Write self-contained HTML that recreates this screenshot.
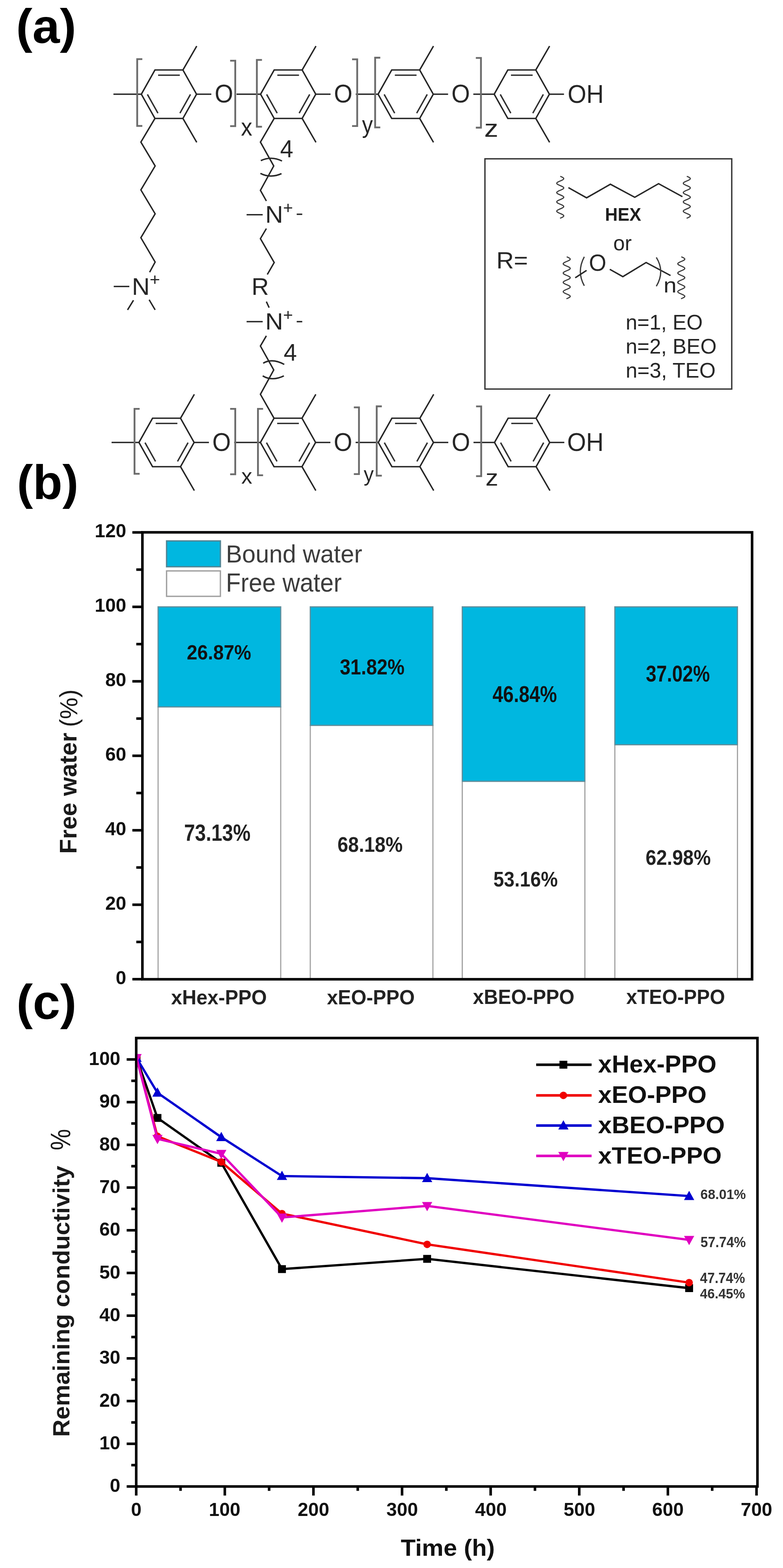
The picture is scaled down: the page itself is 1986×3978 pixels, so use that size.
<!DOCTYPE html>
<html><head><meta charset="utf-8"><title>Figure</title>
<style>html,body{margin:0;padding:0;background:#fff;}svg{display:block;}</style></head>
<body><svg width="1986" height="3978" viewBox="0 0 1986 3978" font-family="Liberation Sans, Arial, sans-serif">
<rect width="1986" height="3978" fill="#fff"/>
<polygon points="358.5,239 393,177.5 464,177.5 498.5,239 464,300.5 393,300.5" fill="none" stroke="#262626" stroke-width="3.6" stroke-linecap="butt" stroke-linejoin="miter"/>
<line x1="401" y1="190.7" x2="456" y2="190.7" stroke="#303030" stroke-width="3.6" stroke-linecap="butt"/>
<line x1="373.9" y1="239.5" x2="400.6" y2="287.1" stroke="#303030" stroke-width="3.6" stroke-linecap="butt"/>
<line x1="483.1" y1="239.5" x2="456.4" y2="287.1" stroke="#303030" stroke-width="3.6" stroke-linecap="butt"/>
<line x1="464" y1="177.5" x2="499" y2="116.9" stroke="#262626" stroke-width="3.6" stroke-linecap="butt"/>
<line x1="464" y1="300.5" x2="499" y2="361.1" stroke="#262626" stroke-width="3.6" stroke-linecap="butt"/>
<polygon points="660.9,239 695.4,177.5 766.4,177.5 800.9,239 766.4,300.5 695.4,300.5" fill="none" stroke="#262626" stroke-width="3.6" stroke-linecap="butt" stroke-linejoin="miter"/>
<line x1="703.4" y1="190.7" x2="758.4" y2="190.7" stroke="#303030" stroke-width="3.6" stroke-linecap="butt"/>
<line x1="676.3" y1="239.5" x2="703" y2="287.1" stroke="#303030" stroke-width="3.6" stroke-linecap="butt"/>
<line x1="785.5" y1="239.5" x2="758.8" y2="287.1" stroke="#303030" stroke-width="3.6" stroke-linecap="butt"/>
<line x1="766.4" y1="177.5" x2="801.4" y2="116.9" stroke="#262626" stroke-width="3.6" stroke-linecap="butt"/>
<line x1="766.4" y1="300.5" x2="801.4" y2="361.1" stroke="#262626" stroke-width="3.6" stroke-linecap="butt"/>
<polygon points="959,239 993.5,177.5 1064.5,177.5 1099,239 1064.5,300.5 993.5,300.5" fill="none" stroke="#262626" stroke-width="3.6" stroke-linecap="butt" stroke-linejoin="miter"/>
<line x1="1001.5" y1="190.7" x2="1056.5" y2="190.7" stroke="#303030" stroke-width="3.6" stroke-linecap="butt"/>
<line x1="974.4" y1="239.5" x2="1001.1" y2="287.1" stroke="#303030" stroke-width="3.6" stroke-linecap="butt"/>
<line x1="1083.6" y1="239.5" x2="1056.9" y2="287.1" stroke="#303030" stroke-width="3.6" stroke-linecap="butt"/>
<line x1="1064.5" y1="177.5" x2="1099.5" y2="116.9" stroke="#262626" stroke-width="3.6" stroke-linecap="butt"/>
<line x1="1064.5" y1="300.5" x2="1099.5" y2="361.1" stroke="#262626" stroke-width="3.6" stroke-linecap="butt"/>
<polygon points="1253.5,239 1288,177.5 1359,177.5 1393.5,239 1359,300.5 1288,300.5" fill="none" stroke="#262626" stroke-width="3.6" stroke-linecap="butt" stroke-linejoin="miter"/>
<line x1="1296" y1="190.7" x2="1351" y2="190.7" stroke="#303030" stroke-width="3.6" stroke-linecap="butt"/>
<line x1="1268.9" y1="239.5" x2="1295.6" y2="287.1" stroke="#303030" stroke-width="3.6" stroke-linecap="butt"/>
<line x1="1378.1" y1="239.5" x2="1351.4" y2="287.1" stroke="#303030" stroke-width="3.6" stroke-linecap="butt"/>
<line x1="1359" y1="177.5" x2="1394" y2="116.9" stroke="#262626" stroke-width="3.6" stroke-linecap="butt"/>
<line x1="1359" y1="300.5" x2="1394" y2="361.1" stroke="#262626" stroke-width="3.6" stroke-linecap="butt"/>
<line x1="287.7" y1="239" x2="358.5" y2="239" stroke="#262626" stroke-width="3.6" stroke-linecap="butt"/>
<line x1="498.5" y1="239" x2="536" y2="239" stroke="#262626" stroke-width="3.6" stroke-linecap="butt"/>
<text transform="translate(544.5,260) scale(1,1.082)" font-size="60.4" fill="#262626">O</text>
<line x1="600" y1="239" x2="660.9" y2="239" stroke="#262626" stroke-width="3.6" stroke-linecap="butt"/>
<line x1="800.9" y1="239" x2="838.4" y2="239" stroke="#262626" stroke-width="3.6" stroke-linecap="butt"/>
<text transform="translate(846.9,260) scale(1,1.082)" font-size="60.4" fill="#262626">O</text>
<line x1="902.4" y1="239" x2="959" y2="239" stroke="#262626" stroke-width="3.6" stroke-linecap="butt"/>
<line x1="1099" y1="239" x2="1136.5" y2="239" stroke="#262626" stroke-width="3.6" stroke-linecap="butt"/>
<text transform="translate(1145,260) scale(1,1.082)" font-size="60.4" fill="#262626">O</text>
<line x1="1200.5" y1="239" x2="1253.5" y2="239" stroke="#262626" stroke-width="3.6" stroke-linecap="butt"/>
<line x1="1393.5" y1="239" x2="1430.5" y2="239" stroke="#262626" stroke-width="3.6" stroke-linecap="butt"/>
<polyline points="361,150 348,150 348,319.5 361,319.5" fill="none" stroke="#6c6c6c" stroke-width="4.6" stroke-linecap="butt" stroke-linejoin="miter"/>
<polyline points="583.7,154 596.7,154 596.7,320 583.7,320" fill="none" stroke="#6c6c6c" stroke-width="4.6" stroke-linecap="butt" stroke-linejoin="miter"/>
<polyline points="664.5,152 651.5,152 651.5,321.5 664.5,321.5" fill="none" stroke="#6c6c6c" stroke-width="4.6" stroke-linecap="butt" stroke-linejoin="miter"/>
<polyline points="893,150.5 906,150.5 906,319.7 893,319.7" fill="none" stroke="#6c6c6c" stroke-width="4.6" stroke-linecap="butt" stroke-linejoin="miter"/>
<polyline points="964.5,146.4 951.5,146.4 951.5,323.2 964.5,323.2" fill="none" stroke="#6c6c6c" stroke-width="4.6" stroke-linecap="butt" stroke-linejoin="miter"/>
<polyline points="1206.9,147 1219.9,147 1219.9,323.9 1206.9,323.9" fill="none" stroke="#6c6c6c" stroke-width="4.6" stroke-linecap="butt" stroke-linejoin="miter"/>
<text transform="translate(611.2,343.7) scale(1,1.096)" font-size="57.3" fill="#262626">x</text>
<text transform="translate(918.3,336.7) scale(1,1.097)" font-size="54.9" fill="#262626">y</text>
<text transform="translate(1228.3,347) scale(1,0.880)" font-size="71.2" fill="#262626">z</text>
<text transform="translate(1439.8,260.7) scale(1,1.070)" font-size="61" fill="#262626">OH</text>
<polygon points="352.4,1122.5 386.9,1061 457.9,1061 492.4,1122.5 457.9,1184 386.9,1184" fill="none" stroke="#262626" stroke-width="3.6" stroke-linecap="butt" stroke-linejoin="miter"/>
<line x1="394.9" y1="1074.2" x2="449.9" y2="1074.2" stroke="#303030" stroke-width="3.6" stroke-linecap="butt"/>
<line x1="367.8" y1="1123" x2="394.5" y2="1170.6" stroke="#303030" stroke-width="3.6" stroke-linecap="butt"/>
<line x1="477" y1="1123" x2="450.3" y2="1170.6" stroke="#303030" stroke-width="3.6" stroke-linecap="butt"/>
<line x1="457.9" y1="1061" x2="492.9" y2="1000.4" stroke="#262626" stroke-width="3.6" stroke-linecap="butt"/>
<line x1="457.9" y1="1184" x2="492.9" y2="1244.6" stroke="#262626" stroke-width="3.6" stroke-linecap="butt"/>
<polygon points="660.5,1122.5 695,1061 766,1061 800.5,1122.5 766,1184 695,1184" fill="none" stroke="#262626" stroke-width="3.6" stroke-linecap="butt" stroke-linejoin="miter"/>
<line x1="703" y1="1074.2" x2="758" y2="1074.2" stroke="#303030" stroke-width="3.6" stroke-linecap="butt"/>
<line x1="675.9" y1="1123" x2="702.6" y2="1170.6" stroke="#303030" stroke-width="3.6" stroke-linecap="butt"/>
<line x1="785.1" y1="1123" x2="758.4" y2="1170.6" stroke="#303030" stroke-width="3.6" stroke-linecap="butt"/>
<line x1="766" y1="1061" x2="801" y2="1000.4" stroke="#262626" stroke-width="3.6" stroke-linecap="butt"/>
<line x1="766" y1="1184" x2="801" y2="1244.6" stroke="#262626" stroke-width="3.6" stroke-linecap="butt"/>
<polygon points="959.5,1122.5 994,1061 1065,1061 1099.5,1122.5 1065,1184 994,1184" fill="none" stroke="#262626" stroke-width="3.6" stroke-linecap="butt" stroke-linejoin="miter"/>
<line x1="1002" y1="1074.2" x2="1057" y2="1074.2" stroke="#303030" stroke-width="3.6" stroke-linecap="butt"/>
<line x1="974.9" y1="1123" x2="1001.6" y2="1170.6" stroke="#303030" stroke-width="3.6" stroke-linecap="butt"/>
<line x1="1084.1" y1="1123" x2="1057.4" y2="1170.6" stroke="#303030" stroke-width="3.6" stroke-linecap="butt"/>
<line x1="1065" y1="1061" x2="1100" y2="1000.4" stroke="#262626" stroke-width="3.6" stroke-linecap="butt"/>
<line x1="1065" y1="1184" x2="1100" y2="1244.6" stroke="#262626" stroke-width="3.6" stroke-linecap="butt"/>
<polygon points="1254.3,1122.5 1288.8,1061 1359.8,1061 1394.3,1122.5 1359.8,1184 1288.8,1184" fill="none" stroke="#262626" stroke-width="3.6" stroke-linecap="butt" stroke-linejoin="miter"/>
<line x1="1296.8" y1="1074.2" x2="1351.8" y2="1074.2" stroke="#303030" stroke-width="3.6" stroke-linecap="butt"/>
<line x1="1269.7" y1="1123" x2="1296.4" y2="1170.6" stroke="#303030" stroke-width="3.6" stroke-linecap="butt"/>
<line x1="1378.9" y1="1123" x2="1352.2" y2="1170.6" stroke="#303030" stroke-width="3.6" stroke-linecap="butt"/>
<line x1="1359.8" y1="1061" x2="1394.8" y2="1000.4" stroke="#262626" stroke-width="3.6" stroke-linecap="butt"/>
<line x1="1359.8" y1="1184" x2="1394.8" y2="1244.6" stroke="#262626" stroke-width="3.6" stroke-linecap="butt"/>
<line x1="283" y1="1122.5" x2="352.4" y2="1122.5" stroke="#262626" stroke-width="3.6" stroke-linecap="butt"/>
<line x1="492.4" y1="1122.5" x2="529.9" y2="1122.5" stroke="#262626" stroke-width="3.6" stroke-linecap="butt"/>
<text transform="translate(538.4,1143.5) scale(1,1.082)" font-size="60.4" fill="#262626">O</text>
<line x1="593.9" y1="1122.5" x2="660.5" y2="1122.5" stroke="#262626" stroke-width="3.6" stroke-linecap="butt"/>
<line x1="800.5" y1="1122.5" x2="838" y2="1122.5" stroke="#262626" stroke-width="3.6" stroke-linecap="butt"/>
<text transform="translate(846.5,1143.5) scale(1,1.082)" font-size="60.4" fill="#262626">O</text>
<line x1="902" y1="1122.5" x2="959.5" y2="1122.5" stroke="#262626" stroke-width="3.6" stroke-linecap="butt"/>
<line x1="1099.5" y1="1122.5" x2="1137" y2="1122.5" stroke="#262626" stroke-width="3.6" stroke-linecap="butt"/>
<text transform="translate(1145.5,1143.5) scale(1,1.082)" font-size="60.4" fill="#262626">O</text>
<line x1="1201" y1="1122.5" x2="1254.3" y2="1122.5" stroke="#262626" stroke-width="3.6" stroke-linecap="butt"/>
<line x1="1394.3" y1="1122.5" x2="1431.3" y2="1122.5" stroke="#262626" stroke-width="3.6" stroke-linecap="butt"/>
<polyline points="354.2,1037.2 341.2,1037.2 341.2,1202 354.2,1202" fill="none" stroke="#6c6c6c" stroke-width="4.6" stroke-linecap="butt" stroke-linejoin="miter"/>
<polyline points="583.7,1037.2 596.7,1037.2 596.7,1203.3 583.7,1203.3" fill="none" stroke="#6c6c6c" stroke-width="4.6" stroke-linecap="butt" stroke-linejoin="miter"/>
<polyline points="667.3,1037.2 654.3,1037.2 654.3,1205.7 667.3,1205.7" fill="none" stroke="#6c6c6c" stroke-width="4.6" stroke-linecap="butt" stroke-linejoin="miter"/>
<polyline points="897.5,1033.5 910.5,1033.5 910.5,1202.8 897.5,1202.8" fill="none" stroke="#6c6c6c" stroke-width="4.6" stroke-linecap="butt" stroke-linejoin="miter"/>
<polyline points="968.5,1030.9 955.5,1030.9 955.5,1206.7 968.5,1206.7" fill="none" stroke="#6c6c6c" stroke-width="4.6" stroke-linecap="butt" stroke-linejoin="miter"/>
<polyline points="1207.5,1031 1220.5,1031 1220.5,1208 1207.5,1208" fill="none" stroke="#6c6c6c" stroke-width="4.6" stroke-linecap="butt" stroke-linejoin="miter"/>
<text x="612" y="1227" font-size="55.6" fill="#262626">x</text>
<text transform="translate(922.6,1221) scale(1,1.069)" font-size="50.9" fill="#262626">y</text>
<text transform="translate(1231.6,1232.2) scale(1,0.912)" font-size="64.6" fill="#262626">z</text>
<text transform="translate(1438.6,1144.3) scale(1,1.054)" font-size="61.7" fill="#262626">OH</text>
<polyline points="393,300.5 357.3,360.5 393.5,421.1 357.3,481.8 393.5,542.4 357.3,603.1 393.5,664.9 379.5,690.6" fill="none" stroke="#262626" stroke-width="3.6" stroke-linecap="butt" stroke-linejoin="miter"/>
<line x1="288.5" y1="726.7" x2="328" y2="726.7" stroke="#262626" stroke-width="3.6" stroke-linecap="butt"/>
<text transform="translate(334.6,747.7) scale(1,0.973)" font-size="62.8" fill="#262626">N</text>
<text transform="translate(379.6,723.5) scale(1,0.941)" font-size="45.5" fill="#262626">+</text>
<line x1="338.6" y1="761.7" x2="323.5" y2="786.2" stroke="#262626" stroke-width="3.6" stroke-linecap="butt"/>
<line x1="378.3" y1="760.5" x2="393.5" y2="786.2" stroke="#262626" stroke-width="3.6" stroke-linecap="butt"/>
<polyline points="695.4,300.5 660.5,360.5 694.3,421.1 660.5,483 675.6,509.8" fill="none" stroke="#262626" stroke-width="3.6" stroke-linecap="butt" stroke-linejoin="miter"/>
<path d="M661.6,407.5 Q688,395 715.3,408.5" fill="none" stroke="#262626" stroke-width="3.6" stroke-linecap="butt" stroke-linejoin="miter"/>
<path d="M660.5,439.8 Q686,453 714,440.5" fill="none" stroke="#262626" stroke-width="3.6" stroke-linecap="butt" stroke-linejoin="miter"/>
<text transform="translate(710.4,399) scale(1,1.047)" font-size="60" fill="#262626">4</text>
<line x1="625.5" y1="544.8" x2="666.3" y2="544.8" stroke="#262626" stroke-width="3.6" stroke-linecap="butt"/>
<text transform="translate(672.8,564.6) scale(1,0.973)" font-size="62.8" fill="#262626">N</text>
<text x="718" y="541.5" font-size="43.1" fill="#262626">+</text>
<line x1="752.6" y1="543.6" x2="766.6" y2="543.6" stroke="#262626" stroke-width="3.6" stroke-linecap="butt"/>
<polyline points="675.6,579.8 660.5,605.4 695.5,666 678,696.4" fill="none" stroke="#262626" stroke-width="3.6" stroke-linecap="butt" stroke-linejoin="miter"/>
<text x="638" y="747.7" font-size="60.8" fill="#262626">R</text>
<line x1="675.6" y1="765.2" x2="682.6" y2="780.4" stroke="#262626" stroke-width="3.6" stroke-linecap="butt"/>
<line x1="625.5" y1="816" x2="666.3" y2="816" stroke="#262626" stroke-width="3.6" stroke-linecap="butt"/>
<text transform="translate(672.8,835.8) scale(1,0.945)" font-size="62.8" fill="#262626">N</text>
<text transform="translate(718,812.6) scale(1,0.948)" font-size="43.1" fill="#262626">+</text>
<line x1="752.6" y1="816" x2="766.6" y2="816" stroke="#262626" stroke-width="3.6" stroke-linecap="butt"/>
<polyline points="675.6,852 660.5,877.8 694.3,938.5 660.5,1000.3 695,1061" fill="none" stroke="#262626" stroke-width="3.6" stroke-linecap="butt" stroke-linejoin="miter"/>
<path d="M667.5,921.5 Q690,908 721,924.5" fill="none" stroke="#262626" stroke-width="3.6" stroke-linecap="butt" stroke-linejoin="miter"/>
<path d="M666.3,953.6 Q690,968 720,953.6" fill="none" stroke="#262626" stroke-width="3.6" stroke-linecap="butt" stroke-linejoin="miter"/>
<text x="719.6" y="915" font-size="60.4" fill="#262626">4</text>
<rect x="1230" y="402.9" width="626" height="584.1" fill="none" stroke="#333" stroke-width="3.4"/>
<text transform="translate(1258.9,680.5) scale(1,0.961)" font-size="61.3" fill="#262626">R=</text>
<polyline points="1421,447.3 1424.5,448.8 1427.5,450.3 1429.4,451.9 1430,453.4 1429.1,454.9 1426.9,456.4 1423.7,457.9 1420.1,459.5 1416.7,461 1413.9,462.5 1412.3,464 1412.1,465.5 1413.3,467.1 1415.8,468.6 1419.1,470.1 1422.7,471.6 1426.1,473.1 1428.6,474.7 1429.9,476.2 1429.7,477.7 1428.2,479.2 1425.5,480.7 1422.1,482.3 1418.4,483.8 1415.3,485.3 1413,486.8 1412,488.3 1412.5,489.9 1414.4,491.4 1417.3,492.9 1420.8,494.4 1424.4,495.9 1427.4,497.5 1429.4,499 1430,500.5 1429.2,502 1427,503.5 1423.9,505.1 1420.3,506.6 1416.9,508.1 1414,509.6 1412.4,511.1 1412.1,512.7 1413.2,514.2 1415.6,515.7 1418.9,517.2 1422.5,518.7 1425.9,520.3 1428.5,521.8 1429.8,523.3 1429.8,524.8 1428.3,526.3 1425.7,527.9 1422.2,529.4 1418.6,530.9 1415.4,532.4 1413.1,533.9 1412,535.5 1412.4,537 1414.2,538.5 1417.1,540 1420.6,541.5 1424.2,543.1 1427.2,544.6 1429.3,546.1 1430,547.6 1429.3,549.1 1427.2,550.7 1424.1,552.2 1420.5,553.7" fill="none" stroke="#3a3a3a" stroke-width="2.8" stroke-linecap="butt" stroke-linejoin="round"/>
<polyline points="1742,447.3 1745.5,448.8 1748.5,450.3 1750.4,451.9 1751,453.4 1750.1,454.9 1747.9,456.4 1744.7,457.9 1741.1,459.5 1737.7,461 1734.9,462.5 1733.3,464 1733.1,465.5 1734.3,467.1 1736.8,468.6 1740.1,470.1 1743.7,471.6 1747.1,473.1 1749.6,474.7 1750.9,476.2 1750.7,477.7 1749.2,479.2 1746.5,480.7 1743.1,482.3 1739.4,483.8 1736.3,485.3 1734,486.8 1733,488.3 1733.5,489.9 1735.4,491.4 1738.3,492.9 1741.8,494.4 1745.4,495.9 1748.4,497.5 1750.4,499 1751,500.5 1750.2,502 1748,503.5 1744.9,505.1 1741.3,506.6 1737.9,508.1 1735,509.6 1733.4,511.1 1733.1,512.7 1734.2,514.2 1736.6,515.7 1739.9,517.2 1743.5,518.7 1746.9,520.3 1749.5,521.8 1750.8,523.3 1750.8,524.8 1749.3,526.3 1746.7,527.9 1743.2,529.4 1739.6,530.9 1736.4,532.4 1734.1,533.9 1733,535.5 1733.4,537 1735.2,538.5 1738.1,540 1741.6,541.5 1745.2,543.1 1748.2,544.6 1750.3,546.1 1751,547.6 1750.3,549.1 1748.2,550.7 1745.1,552.2 1741.5,553.7" fill="none" stroke="#3a3a3a" stroke-width="2.8" stroke-linecap="butt" stroke-linejoin="round"/>
<polyline points="1441.7,476 1487.8,501.9 1548.2,467.4 1610,500.5 1670.4,466 1730.9,499" fill="none" stroke="#262626" stroke-width="3.6" stroke-linecap="butt" stroke-linejoin="miter"/>
<text transform="translate(1534.5,559.5) scale(1,1.052)" font-size="44.6" font-weight="bold" fill="#1e1e1e">HEX</text>
<text x="1555.5" y="635.2" font-size="52.7" fill="#262626">or</text>
<polyline points="1437.4,651.5 1440.9,653 1443.8,654.5 1445.8,656 1446.4,657.5 1445.6,659 1443.5,660.5 1440.5,662 1436.9,663.5 1433.5,665 1430.6,666.5 1428.9,668 1428.4,669.5 1429.4,671 1431.7,672.5 1434.8,674 1438.4,675.5 1441.8,677 1444.5,678.5 1446.1,680 1446.3,681.5 1445.2,683 1442.8,684.5 1439.5,686 1436,687.5 1432.6,689 1430,690.5 1428.6,692 1428.6,693.5 1429.9,695 1432.4,696.5 1435.7,698 1439.3,699.5 1442.6,701 1445,702.5 1446.3,704 1446.1,705.5 1444.6,707 1442,708.5 1438.6,710 1435,711.5 1431.8,713 1429.5,714.5 1428.5,716 1428.8,717.5 1430.5,719 1433.3,720.5 1436.7,722 1440.2,723.5 1443.3,725 1445.5,726.5 1446.4,728 1445.9,729.5 1444,731 1441.1,732.5 1437.6,734 1434.1,735.5 1431.1,737 1429.1,738.5 1428.4,740 1429.1,741.5 1431.1,743 1434.1,744.5 1437.6,746 1441.1,747.5 1444,749 1445.9,750.5 1446.4,752 1445.5,753.5 1443.3,755 1440.2,756.5 1436.7,758" fill="none" stroke="#3a3a3a" stroke-width="2.8" stroke-linecap="butt" stroke-linejoin="round"/>
<polyline points="1728,651.5 1731.5,653 1734.4,654.5 1736.4,656 1737,657.5 1736.2,659 1734.1,660.5 1731.1,662 1727.5,663.5 1724.1,665 1721.2,666.5 1719.5,668 1719,669.5 1720,671 1722.3,672.5 1725.4,674 1729,675.5 1732.4,677 1735.1,678.5 1736.7,680 1736.9,681.5 1735.8,683 1733.4,684.5 1730.1,686 1726.6,687.5 1723.2,689 1720.6,690.5 1719.2,692 1719.2,693.5 1720.5,695 1723,696.5 1726.3,698 1729.9,699.5 1733.2,701 1735.6,702.5 1736.9,704 1736.7,705.5 1735.2,707 1732.6,708.5 1729.2,710 1725.6,711.5 1722.4,713 1720.1,714.5 1719.1,716 1719.4,717.5 1721.1,719 1723.9,720.5 1727.3,722 1730.8,723.5 1733.9,725 1736.1,726.5 1737,728 1736.5,729.5 1734.6,731 1731.7,732.5 1728.2,734 1724.7,735.5 1721.7,737 1719.7,738.5 1719,740 1719.7,741.5 1721.7,743 1724.7,744.5 1728.2,746 1731.7,747.5 1734.6,749 1736.5,750.5 1737,752 1736.1,753.5 1733.9,755 1730.8,756.5 1727.3,758" fill="none" stroke="#3a3a3a" stroke-width="2.8" stroke-linecap="butt" stroke-linejoin="round"/>
<path d="M1482,651.5 Q1462,689 1482,725" fill="none" stroke="#3a3a3a" stroke-width="3.2" stroke-linecap="butt" stroke-linejoin="miter"/>
<line x1="1459" y1="704.8" x2="1487.8" y2="686" stroke="#262626" stroke-width="3.6" stroke-linecap="butt"/>
<text transform="translate(1493.7,686.9) scale(1,1.052)" font-size="56.8" fill="#262626">O</text>
<polyline points="1546.7,683.2 1579.8,701.9 1638.8,666 1700.7,699" fill="none" stroke="#262626" stroke-width="3.6" stroke-linecap="butt" stroke-linejoin="miter"/>
<path d="M1664.7,653 Q1687,689 1664.7,726.3" fill="none" stroke="#3a3a3a" stroke-width="3.2" stroke-linecap="butt" stroke-linejoin="miter"/>
<text transform="translate(1682.9,742.2) scale(1,0.900)" font-size="59.5" fill="#262626">n</text>
<text transform="translate(1586.9,836.2) scale(1,1.015)" font-size="52.9" fill="#262626">n=1, EO</text>
<text x="1586.9" y="896.8" font-size="52.9" fill="#262626">n=2, BEO</text>
<text x="1586.9" y="957.5" font-size="53.2" fill="#262626">n=3, TEO</text>
<text transform="translate(40.8,108.6) scale(1,0.980)" font-size="124.7" font-weight="bold" fill="#000">(a)</text>
<text x="42.9" y="1266" font-size="122.3" font-weight="bold" fill="#000">(b)</text>
<text x="41.8" y="2585.1" font-size="124.5" font-weight="bold" fill="#000">(c)</text>
<rect x="401" y="1793.4" width="311" height="690.8" fill="#fff" stroke="#a4a4a4" stroke-width="3"/>
<rect x="401" y="1539.6" width="311" height="253.8" fill="#00b7e0" stroke="#5f8f9d" stroke-width="3"/>
<text transform="translate(473.7,1672.5) scale(1,1.084)" font-size="48.2" font-weight="bold" fill="#111">26.87%</text>
<text transform="translate(466.9,2132.6) scale(1,1.200)" font-size="49.7" font-weight="bold" fill="#222">73.13%</text>
<text transform="translate(434,2547.5) scale(1,1.042)" font-size="50.2" font-weight="bold" fill="#222">xHex-PPO</text>
<rect x="787" y="1840.2" width="311" height="644" fill="#fff" stroke="#a4a4a4" stroke-width="3"/>
<rect x="787" y="1539.6" width="311" height="300.6" fill="#00b7e0" stroke="#5f8f9d" stroke-width="3"/>
<text transform="translate(861.9,1711.3) scale(1,1.135)" font-size="48.4" font-weight="bold" fill="#111">31.82%</text>
<text transform="translate(855.9,2161) scale(1,1.116)" font-size="48.8" font-weight="bold" fill="#222">68.18%</text>
<text transform="translate(829.2,2547.5) scale(1,1.044)" font-size="50.1" font-weight="bold" fill="#222">xEO-PPO</text>
<rect x="1172.5" y="1982.1" width="311" height="502.1" fill="#fff" stroke="#a4a4a4" stroke-width="3"/>
<rect x="1172.5" y="1539.6" width="311" height="442.5" fill="#00b7e0" stroke="#5f8f9d" stroke-width="3"/>
<text transform="translate(1249.3,1781.3) scale(1,1.200)" font-size="48.2" font-weight="bold" fill="#111">46.84%</text>
<text transform="translate(1251.6,2248.8) scale(1,1.109)" font-size="48.1" font-weight="bold" fill="#222">53.16%</text>
<text transform="translate(1199.6,2547.3) scale(1,1.036)" font-size="49.8" font-weight="bold" fill="#222">xBEO-PPO</text>
<rect x="1559.5" y="1889.3" width="311" height="594.9" fill="#fff" stroke="#a4a4a4" stroke-width="3"/>
<rect x="1559.5" y="1539.6" width="311" height="349.7" fill="#00b7e0" stroke="#5f8f9d" stroke-width="3"/>
<text transform="translate(1638.3,1729) scale(1,1.200)" font-size="47.8" font-weight="bold" fill="#111">37.02%</text>
<text transform="translate(1637.6,2193.9) scale(1,1.101)" font-size="48.7" font-weight="bold" fill="#222">62.98%</text>
<text transform="translate(1588.6,2547.3) scale(1,1.042)" font-size="49.5" font-weight="bold" fill="#222">xTEO-PPO</text>
<rect x="422.5" y="1372.3" width="136.5" height="65.5" fill="#00b7e0" stroke="#4f8595" stroke-width="3.4"/>
<rect x="422.5" y="1448.4" width="136.5" height="64.5" fill="#fff" stroke="#a0a0a0" stroke-width="3.4"/>
<text transform="translate(572.9,1426.9) scale(1,1.028)" font-size="61.6" fill="#3c3c3c">Bound water</text>
<text transform="translate(572.9,1501.3) scale(1,1.084)" font-size="61.5" fill="#3c3c3c">Free water</text>
<rect x="361.2" y="1350.5" width="1546.4" height="1133.9" fill="none" stroke="#000" stroke-width="6.5"/>
<line x1="335.7" y1="2484.2" x2="361" y2="2484.2" stroke="#000" stroke-width="6.5" stroke-linecap="butt"/>
<line x1="335.7" y1="2295.3" x2="361" y2="2295.3" stroke="#000" stroke-width="6.5" stroke-linecap="butt"/>
<line x1="335.7" y1="2106.4" x2="361" y2="2106.4" stroke="#000" stroke-width="6.5" stroke-linecap="butt"/>
<line x1="335.7" y1="1917.4" x2="361" y2="1917.4" stroke="#000" stroke-width="6.5" stroke-linecap="butt"/>
<line x1="335.7" y1="1728.5" x2="361" y2="1728.5" stroke="#000" stroke-width="6.5" stroke-linecap="butt"/>
<line x1="335.7" y1="1539.6" x2="361" y2="1539.6" stroke="#000" stroke-width="6.5" stroke-linecap="butt"/>
<line x1="335.7" y1="1350.7" x2="361" y2="1350.7" stroke="#000" stroke-width="6.5" stroke-linecap="butt"/>
<line x1="345.7" y1="2389.7" x2="361" y2="2389.7" stroke="#000" stroke-width="6.5" stroke-linecap="butt"/>
<line x1="345.7" y1="2200.8" x2="361" y2="2200.8" stroke="#000" stroke-width="6.5" stroke-linecap="butt"/>
<line x1="345.7" y1="2011.9" x2="361" y2="2011.9" stroke="#000" stroke-width="6.5" stroke-linecap="butt"/>
<line x1="345.7" y1="1823" x2="361" y2="1823" stroke="#000" stroke-width="6.5" stroke-linecap="butt"/>
<line x1="345.7" y1="1634.1" x2="361" y2="1634.1" stroke="#000" stroke-width="6.5" stroke-linecap="butt"/>
<line x1="345.7" y1="1445.1" x2="361" y2="1445.1" stroke="#000" stroke-width="6.5" stroke-linecap="butt"/>
<text x="293.6" y="2496.7" font-size="48" font-weight="bold" fill="#111">0</text>
<text x="266.9" y="2307.8" font-size="48" font-weight="bold" fill="#111">20</text>
<text x="266.9" y="2118.9" font-size="48" font-weight="bold" fill="#111">40</text>
<text x="266.9" y="1929.9" font-size="48" font-weight="bold" fill="#111">60</text>
<text x="266.9" y="1741" font-size="48" font-weight="bold" fill="#111">80</text>
<text x="240.2" y="1552.1" font-size="48" font-weight="bold" fill="#111">100</text>
<text x="240.2" y="1363.2" font-size="48" font-weight="bold" fill="#111">120</text>
<text transform="matrix(0,-1,0.996,0,152.2,2161.9) translate(-4.1,42.2)" font-size="61.4" font-weight="bold" fill="#1a1a1a">Free water</text>
<text transform="matrix(0,-1,1.028,0,150.5,1840.8) translate(-3.8,44.5)" font-size="61.4" fill="#1a1a1a">(%)</text>
<rect x="345.5" y="2633.5" width="1575.7" height="1137.7" fill="none" stroke="#000" stroke-width="6.5"/>
<line x1="321.3" y1="3771.2" x2="345.5" y2="3771.2" stroke="#000" stroke-width="6.5" stroke-linecap="butt"/>
<line x1="321.3" y1="3662.9" x2="345.5" y2="3662.9" stroke="#000" stroke-width="6.5" stroke-linecap="butt"/>
<line x1="321.3" y1="3554.5" x2="345.5" y2="3554.5" stroke="#000" stroke-width="6.5" stroke-linecap="butt"/>
<line x1="321.3" y1="3446.2" x2="345.5" y2="3446.2" stroke="#000" stroke-width="6.5" stroke-linecap="butt"/>
<line x1="321.3" y1="3337.8" x2="345.5" y2="3337.8" stroke="#000" stroke-width="6.5" stroke-linecap="butt"/>
<line x1="321.3" y1="3229.5" x2="345.5" y2="3229.5" stroke="#000" stroke-width="6.5" stroke-linecap="butt"/>
<line x1="321.3" y1="3121.2" x2="345.5" y2="3121.2" stroke="#000" stroke-width="6.5" stroke-linecap="butt"/>
<line x1="321.3" y1="3012.8" x2="345.5" y2="3012.8" stroke="#000" stroke-width="6.5" stroke-linecap="butt"/>
<line x1="321.3" y1="2904.5" x2="345.5" y2="2904.5" stroke="#000" stroke-width="6.5" stroke-linecap="butt"/>
<line x1="321.3" y1="2796.1" x2="345.5" y2="2796.1" stroke="#000" stroke-width="6.5" stroke-linecap="butt"/>
<line x1="321.3" y1="2687.8" x2="345.5" y2="2687.8" stroke="#000" stroke-width="6.5" stroke-linecap="butt"/>
<line x1="333" y1="3717" x2="345.5" y2="3717" stroke="#000" stroke-width="6.5" stroke-linecap="butt"/>
<line x1="333" y1="3608.7" x2="345.5" y2="3608.7" stroke="#000" stroke-width="6.5" stroke-linecap="butt"/>
<line x1="333" y1="3500.3" x2="345.5" y2="3500.3" stroke="#000" stroke-width="6.5" stroke-linecap="butt"/>
<line x1="333" y1="3392" x2="345.5" y2="3392" stroke="#000" stroke-width="6.5" stroke-linecap="butt"/>
<line x1="333" y1="3283.7" x2="345.5" y2="3283.7" stroke="#000" stroke-width="6.5" stroke-linecap="butt"/>
<line x1="333" y1="3175.3" x2="345.5" y2="3175.3" stroke="#000" stroke-width="6.5" stroke-linecap="butt"/>
<line x1="333" y1="3067" x2="345.5" y2="3067" stroke="#000" stroke-width="6.5" stroke-linecap="butt"/>
<line x1="333" y1="2958.6" x2="345.5" y2="2958.6" stroke="#000" stroke-width="6.5" stroke-linecap="butt"/>
<line x1="333" y1="2850.3" x2="345.5" y2="2850.3" stroke="#000" stroke-width="6.5" stroke-linecap="butt"/>
<line x1="333" y1="2742" x2="345.5" y2="2742" stroke="#000" stroke-width="6.5" stroke-linecap="butt"/>
<line x1="345.5" y1="3771" x2="345.5" y2="3794.2" stroke="#000" stroke-width="6.5" stroke-linecap="butt"/>
<line x1="570.2" y1="3771" x2="570.2" y2="3794.2" stroke="#000" stroke-width="6.5" stroke-linecap="butt"/>
<line x1="795" y1="3771" x2="795" y2="3794.2" stroke="#000" stroke-width="6.5" stroke-linecap="butt"/>
<line x1="1019.8" y1="3771" x2="1019.8" y2="3794.2" stroke="#000" stroke-width="6.5" stroke-linecap="butt"/>
<line x1="1244.5" y1="3771" x2="1244.5" y2="3794.2" stroke="#000" stroke-width="6.5" stroke-linecap="butt"/>
<line x1="1469.2" y1="3771" x2="1469.2" y2="3794.2" stroke="#000" stroke-width="6.5" stroke-linecap="butt"/>
<line x1="1694" y1="3771" x2="1694" y2="3794.2" stroke="#000" stroke-width="6.5" stroke-linecap="butt"/>
<line x1="1918.8" y1="3771" x2="1918.8" y2="3794.2" stroke="#000" stroke-width="6.5" stroke-linecap="butt"/>
<line x1="457.9" y1="3771" x2="457.9" y2="3782.3" stroke="#000" stroke-width="6.5" stroke-linecap="butt"/>
<line x1="682.6" y1="3771" x2="682.6" y2="3782.3" stroke="#000" stroke-width="6.5" stroke-linecap="butt"/>
<line x1="907.4" y1="3771" x2="907.4" y2="3782.3" stroke="#000" stroke-width="6.5" stroke-linecap="butt"/>
<line x1="1132.1" y1="3771" x2="1132.1" y2="3782.3" stroke="#000" stroke-width="6.5" stroke-linecap="butt"/>
<line x1="1356.9" y1="3771" x2="1356.9" y2="3782.3" stroke="#000" stroke-width="6.5" stroke-linecap="butt"/>
<line x1="1581.6" y1="3771" x2="1581.6" y2="3782.3" stroke="#000" stroke-width="6.5" stroke-linecap="butt"/>
<line x1="1806.4" y1="3771" x2="1806.4" y2="3782.3" stroke="#000" stroke-width="6.5" stroke-linecap="butt"/>
<text x="278.6" y="3785.3" font-size="48" font-weight="bold" fill="#111">0</text>
<text x="251.9" y="3677" font-size="48" font-weight="bold" fill="#111">10</text>
<text x="251.9" y="3568.6" font-size="48" font-weight="bold" fill="#111">20</text>
<text x="251.9" y="3460.2" font-size="48" font-weight="bold" fill="#111">30</text>
<text x="251.9" y="3351.9" font-size="48" font-weight="bold" fill="#111">40</text>
<text x="251.9" y="3243.6" font-size="48" font-weight="bold" fill="#111">50</text>
<text x="251.9" y="3135.3" font-size="48" font-weight="bold" fill="#111">60</text>
<text x="251.9" y="3026.9" font-size="48" font-weight="bold" fill="#111">70</text>
<text x="251.9" y="2918.6" font-size="48" font-weight="bold" fill="#111">80</text>
<text x="251.9" y="2810.2" font-size="48" font-weight="bold" fill="#111">90</text>
<text x="225.2" y="2701.9" font-size="48" font-weight="bold" fill="#111">100</text>
<text x="332.2" y="3846.2" font-size="48" font-weight="bold" fill="#111">0</text>
<text x="529.7" y="3846.2" font-size="48" font-weight="bold" fill="#111">100</text>
<text x="755.1" y="3846.2" font-size="48" font-weight="bold" fill="#111">200</text>
<text x="980.1" y="3846.2" font-size="48" font-weight="bold" fill="#111">300</text>
<text x="1205.1" y="3846.2" font-size="48" font-weight="bold" fill="#111">400</text>
<text x="1429.5" y="3846.2" font-size="48" font-weight="bold" fill="#111">500</text>
<text x="1654" y="3846.2" font-size="48" font-weight="bold" fill="#111">600</text>
<text x="1878.7" y="3846.2" font-size="48" font-weight="bold" fill="#111">700</text>
<text transform="translate(1016.4,3946.8) scale(1,0.956)" font-size="61.7" font-weight="bold" fill="#111">Time (h)</text>
<text transform="matrix(0,-1,0.973,0,133.2,3641.2) translate(-4.1,44.2)" font-size="61" font-weight="bold" fill="#1a1a1a">Remaining conductivity</text>
<text transform="matrix(0,-1,1.153,0,129.4,2916.1) translate(-2.1,42.2)" font-size="60.7" fill="#1a1a1a">%</text>
<defs><clipPath id="pc"><rect x="348.7" y="2636.7" width="1569" height="1131"/></clipPath></defs><g clip-path="url(#pc)">
<polyline points="346.4,2684 399.4,2836.2 561.3,2950 715.2,3219.7 1083.4,3193.7 1747.9,3268" fill="none" stroke="#000000" stroke-width="5.8" stroke-linecap="butt" stroke-linejoin="round"/>
<rect x="336.4" y="2674" width="20" height="20" fill="#000000" stroke="none" stroke-width="0"/>
<rect x="389.4" y="2826.2" width="20" height="20" fill="#000000" stroke="none" stroke-width="0"/>
<rect x="551.3" y="2940" width="20" height="20" fill="#000000" stroke="none" stroke-width="0"/>
<rect x="705.2" y="3209.7" width="20" height="20" fill="#000000" stroke="none" stroke-width="0"/>
<rect x="1073.4" y="3183.7" width="20" height="20" fill="#000000" stroke="none" stroke-width="0"/>
<rect x="1737.9" y="3258" width="20" height="20" fill="#000000" stroke="none" stroke-width="0"/>
<polyline points="346.4,2684 399.4,2882.8 561.3,2947.8 715.2,3078.9 1083.4,3156.9 1747.9,3254" fill="none" stroke="#f00000" stroke-width="5.8" stroke-linecap="butt" stroke-linejoin="round"/>
<circle cx="346.4" cy="2684" r="9.5" fill="#f00000"/>
<circle cx="399.4" cy="2882.8" r="9.5" fill="#f00000"/>
<circle cx="561.3" cy="2947.8" r="9.5" fill="#f00000"/>
<circle cx="715.2" cy="3078.9" r="9.5" fill="#f00000"/>
<circle cx="1083.4" cy="3156.9" r="9.5" fill="#f00000"/>
<circle cx="1747.9" cy="3254" r="9.5" fill="#f00000"/>
<polyline points="346.4,2684 399.4,2772.3 561.3,2885 715.2,2983.6 1083.4,2989 1747.9,3034.4" fill="none" stroke="#0000d0" stroke-width="5.8" stroke-linecap="butt" stroke-linejoin="round"/>
<polygon points="346.4,2670.5 359.4,2694 333.4,2694" fill="#0000d0" stroke="#0000d0" stroke-width="0" stroke-linecap="butt" stroke-linejoin="miter"/>
<polygon points="399.4,2758.8 412.4,2782.3 386.4,2782.3" fill="#0000d0" stroke="#0000d0" stroke-width="0" stroke-linecap="butt" stroke-linejoin="miter"/>
<polygon points="561.3,2871.5 574.3,2895 548.3,2895" fill="#0000d0" stroke="#0000d0" stroke-width="0" stroke-linecap="butt" stroke-linejoin="miter"/>
<polygon points="715.2,2970.1 728.2,2993.6 702.2,2993.6" fill="#0000d0" stroke="#0000d0" stroke-width="0" stroke-linecap="butt" stroke-linejoin="miter"/>
<polygon points="1083.4,2975.5 1096.4,2999 1070.4,2999" fill="#0000d0" stroke="#0000d0" stroke-width="0" stroke-linecap="butt" stroke-linejoin="miter"/>
<polygon points="1747.9,3020.9 1760.9,3044.4 1734.9,3044.4" fill="#0000d0" stroke="#0000d0" stroke-width="0" stroke-linecap="butt" stroke-linejoin="miter"/>
<polyline points="346.4,2684 399.4,2889.3 561.3,2927.2 715.2,3088.7 1083.4,3059.4 1747.9,3145.6" fill="none" stroke="#e000c0" stroke-width="5.8" stroke-linecap="butt" stroke-linejoin="round"/>
<polygon points="346.4,2697.5 359.4,2674 333.4,2674" fill="#e000c0" stroke="#e000c0" stroke-width="0" stroke-linecap="butt" stroke-linejoin="miter"/>
<polygon points="399.4,2902.8 412.4,2879.3 386.4,2879.3" fill="#e000c0" stroke="#e000c0" stroke-width="0" stroke-linecap="butt" stroke-linejoin="miter"/>
<polygon points="561.3,2940.7 574.3,2917.2 548.3,2917.2" fill="#e000c0" stroke="#e000c0" stroke-width="0" stroke-linecap="butt" stroke-linejoin="miter"/>
<polygon points="715.2,3102.2 728.2,3078.7 702.2,3078.7" fill="#e000c0" stroke="#e000c0" stroke-width="0" stroke-linecap="butt" stroke-linejoin="miter"/>
<polygon points="1083.4,3072.9 1096.4,3049.4 1070.4,3049.4" fill="#e000c0" stroke="#e000c0" stroke-width="0" stroke-linecap="butt" stroke-linejoin="miter"/>
<polygon points="1747.9,3159.1 1760.9,3135.6 1734.9,3135.6" fill="#e000c0" stroke="#e000c0" stroke-width="0" stroke-linecap="butt" stroke-linejoin="miter"/>
</g>
<line x1="1360" y1="2701.2" x2="1500.5" y2="2701.2" stroke="#000000" stroke-width="6.5" stroke-linecap="butt"/>
<rect x="1419" y="2691.2" width="20" height="20" fill="#000000" stroke="none" stroke-width="0"/>
<line x1="1360" y1="2778.9" x2="1500.5" y2="2778.9" stroke="#f00000" stroke-width="6.5" stroke-linecap="butt"/>
<circle cx="1429" cy="2778.9" r="9.5" fill="#f00000"/>
<line x1="1360" y1="2855.4" x2="1500.5" y2="2855.4" stroke="#0000d0" stroke-width="6.5" stroke-linecap="butt"/>
<polygon points="1429,2841.9 1442,2865.4 1416,2865.4" fill="#0000d0" stroke="#0000d0" stroke-width="0" stroke-linecap="butt" stroke-linejoin="miter"/>
<line x1="1360" y1="2932.6" x2="1500.5" y2="2932.6" stroke="#e000c0" stroke-width="6.5" stroke-linecap="butt"/>
<polygon points="1429,2946.1 1442,2922.6 1416,2922.6" fill="#e000c0" stroke="#e000c0" stroke-width="0" stroke-linecap="butt" stroke-linejoin="miter"/>
<text x="1517.1" y="2720.8" font-size="62.1" font-weight="bold" fill="#111">xHex-PPO</text>
<text transform="translate(1517.1,2798.1) scale(1,0.975)" font-size="61.9" font-weight="bold" fill="#111">xEO-PPO</text>
<text transform="translate(1517.1,2875.4) scale(1,0.977)" font-size="62.2" font-weight="bold" fill="#111">xBEO-PPO</text>
<text transform="translate(1517.1,2952.4) scale(1,0.965)" font-size="62" font-weight="bold" fill="#111">xTEO-PPO</text>
<text transform="translate(1776.5,3042.3) scale(1,1.022)" font-size="34" font-weight="bold" fill="#333">68.01%</text>
<text transform="translate(1776.8,3164.3) scale(1,1.074)" font-size="33.9" font-weight="bold" fill="#333">57.74%</text>
<text transform="translate(1775.5,3255.1) scale(1,1.085)" font-size="33.7" font-weight="bold" fill="#333">47.74%</text>
<text transform="translate(1775.5,3293.7) scale(1,1.035)" font-size="33.7" font-weight="bold" fill="#333">46.45%</text>
</svg></body></html>
